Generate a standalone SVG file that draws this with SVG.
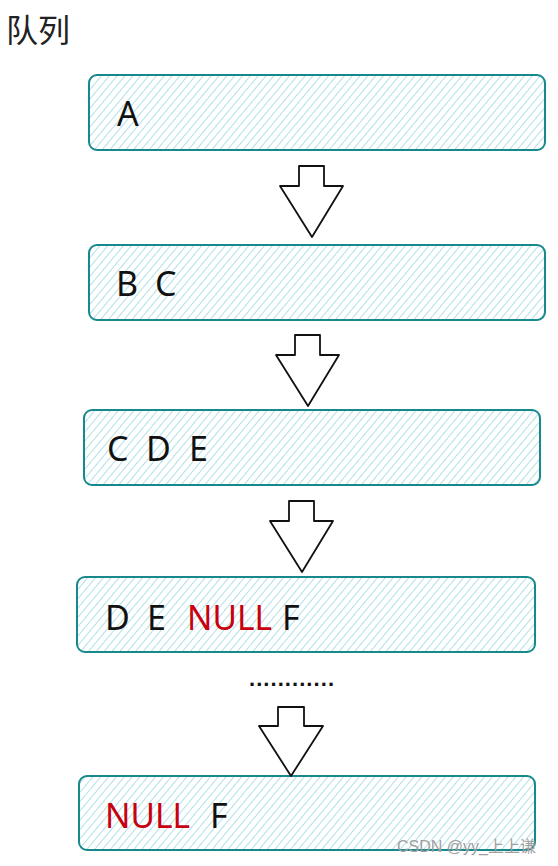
<svg xmlns="http://www.w3.org/2000/svg" width="558" height="866" viewBox="0 0 558 866">
<style>
.box{fill:url(#hatch);stroke:#17898c;stroke-width:2}
.t{font-family:"Noto Sans","Liberation Sans",sans-serif;font-size:34px;fill:#111}
.r{fill:#c8000f}
.arrow{fill:#fff;stroke:#111;stroke-width:1.8;stroke-linejoin:round}
.title{font-family:"Noto Sans CJK SC",sans-serif;font-size:32px;fill:#222}
.wm{font-family:"Liberation Sans","Noto Sans CJK SC",sans-serif;font-size:16px;fill:#a0a0a0}
</style>
<defs>
<pattern id="hatch" width="6" height="6" patternUnits="userSpaceOnUse" patternTransform="rotate(40)">
<rect width="6" height="6" fill="#fff"/>
<line x1="0" y1="0" x2="0" y2="6" stroke="#a3dbe2" stroke-width="1.7"/>
</pattern>
</defs>
<text class="title" x="6" y="42">队列</text>
<g id="n1"><rect class="box" x="89" y="75" width="456" height="75" rx="8"/><text class="t" x="117" y="126">A</text></g>
<g id="n2"><rect class="box" x="89" y="245" width="456" height="75" rx="8"/><text class="t" x="116" y="296">B</text><text class="t" x="155" y="296">C</text></g>
<g id="n3"><rect class="box" x="84" y="410" width="456" height="75" rx="8"/><text class="t" x="107" y="461">C</text><text class="t" x="146" y="461">D</text><text class="t" x="189" y="461">E</text></g>
<g id="n4"><rect class="box" x="77" y="577" width="458" height="75" rx="8"/><text class="t" x="105" y="630">D</text><text class="t" x="147" y="630">E</text><text class="t r" x="187" y="630" textLength="85" lengthAdjust="spacingAndGlyphs">NULL</text><text class="t" x="282" y="630">F</text></g>
<g id="n5"><rect class="box" x="79" y="776" width="456" height="74" rx="8"/><text class="t r" x="105" y="828" textLength="85" lengthAdjust="spacingAndGlyphs">NULL</text><text class="t" x="210" y="828">F</text></g>
<g id="connectors">
<path class="arrow" d="M299,166 H324 V186 H343 L312,237 L280,186 H299 Z"/>
<path class="arrow" d="M295,335 H320 V355 H339 L308,406 L276,355 H295 Z"/>
<path class="arrow" d="M289,501 H314 V521 H333 L302,572 L270,521 H289 Z"/>
<path class="arrow" d="M278,707 H304 V726 H323 L291,776 L259,726 H278 Z"/>
<text x="249" y="686" textLength="85" style="font-family:'Liberation Sans',sans-serif;font-size:22px;font-weight:bold;fill:#111">............</text>
</g>
<text class="wm" x="397" y="852">CSDN @yy_上上谦</text>
</svg>
